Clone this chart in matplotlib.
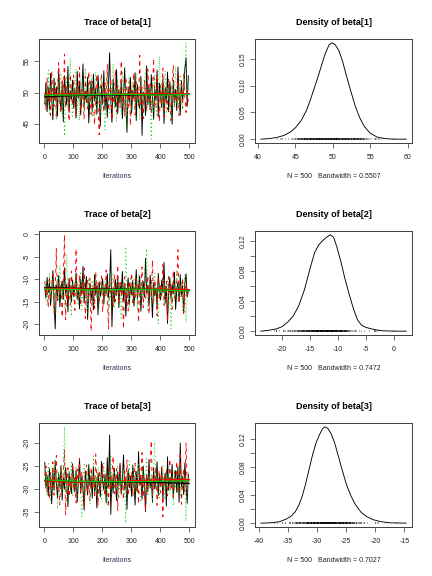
import numpy as np
import matplotlib
matplotlib.use("Agg")
import matplotlib.pyplot as plt

plt.rcParams["font.family"] = ["Liberation Sans", "DejaVu Sans"]
plt.rcParams["axes.unicode_minus"] = False

# trace values (every 4th iteration of 500), three chains per parameter
b1_chain1 = [48.2, 51.6, 46.9, 50.8, 47.4, 53.1, 49.0, 45.6, 52.3, 48.7, 50.9, 46.2, 53.8, 49.5, 47.1, 51.2, 45.3, 52.7, 49.9, 48.0, 54.2, 46.8, 50.3, 48.9, 52.0,
             47.5, 50.6, 45.9, 53.4, 49.1, 51.8, 46.4, 49.7, 54.6, 47.8, 50.2, 48.4, 52.5, 45.1, 49.3, 51.9, 47.0, 53.0, 48.6, 50.7, 46.5, 52.8, 49.4, 44.6, 51.1,
             48.1, 53.5, 47.3, 50.0, 46.0, 51.4, 56.4, 48.8, 45.2, 52.1, 49.6, 47.7, 53.7, 46.6, 50.5, 48.3, 51.7, 45.8, 49.2, 54.0, 47.9, 43.6, 50.9, 48.5, 52.4,
             46.7, 50.4, 49.0, 53.2, 45.5, 51.3, 48.2, 47.4, 52.6, 43.1, 50.1, 49.8, 46.3, 54.3, 48.0, 51.0, 47.2, 52.9, 49.4, 45.7, 50.6, 48.7, 53.6, 46.1, 51.5,
             49.1, 47.6, 52.2, 45.0, 50.8, 48.4, 53.3, 46.9, 51.7, 49.7, 44.9, 52.0, 48.3, 50.5, 47.1, 54.1, 49.6, 46.4, 51.9, 48.8, 50.3, 53.9, 55.6, 47.8, 52.7]
b1_chain2 = [49.8, 47.2, 52.4, 48.5, 50.9, 46.3, 53.5, 49.1, 47.8, 51.6, 45.9, 50.2, 54.8, 48.0, 46.7, 52.2, 49.4, 56.2, 47.5, 51.0, 48.6, 45.4, 53.0, 50.1, 47.9,
             52.8, 48.3, 46.1, 51.3, 49.7, 54.1, 47.0, 50.5, 48.8, 45.7, 52.6, 49.2, 47.4, 53.4, 50.7, 46.5, 51.8, 48.1, 44.8, 49.9, 52.9, 47.7, 43.2, 50.4, 53.1,
             48.9, 46.8, 51.5, 49.3, 54.5, 47.1, 50.0, 52.3, 45.6, 49.5, 48.2, 53.6, 46.9, 51.1, 49.8, 47.6, 55.1, 48.4, 50.6, 46.2, 52.5, 49.0, 47.3, 51.9, 44.7,
             50.3, 48.7, 53.2, 46.4, 51.7, 49.6, 47.9, 56.0, 48.1, 50.8, 45.8, 52.0, 49.2, 47.0, 53.8, 48.6, 51.4, 46.6, 50.1, 55.5, 48.3, 47.5, 52.7, 49.9, 45.3,
             51.2, 48.0, 53.9, 46.0, 50.6, 49.4, 47.2, 52.1, 48.9, 45.5, 51.6, 54.4, 47.7, 50.0, 48.5, 52.8, 46.3, 49.7, 51.3, 47.4, 53.0, 49.1, 46.8, 50.4, 48.2]
b1_chain3 = [47.9, 50.7, 48.4, 53.6, 46.6, 51.2, 49.3, 47.0, 52.5, 50.0, 45.8, 49.6, 51.9, 48.1, 53.2, 46.4, 50.8, 43.0, 49.0, 52.7, 47.6, 50.3, 55.6, 48.6, 46.2,
             51.4, 49.2, 53.8, 47.3, 50.6, 45.5, 52.2, 48.8, 50.1, 46.9, 54.0, 49.5, 47.7, 51.6, 48.3, 52.9, 46.0, 50.4, 48.9, 53.3, 47.1, 49.8, 51.0, 45.9, 52.4,
             49.4, 47.5, 44.0, 50.9, 53.0, 48.2, 46.7, 51.5, 49.1, 54.7, 47.4, 50.2, 45.3, 52.1, 48.7, 50.8, 46.5, 53.4, 49.6, 47.8, 51.3, 44.4, 50.5, 52.6, 48.0,
             46.3, 51.8, 49.7, 47.2, 53.1, 48.5, 50.0, 45.6, 52.3, 49.3, 47.9, 51.1, 53.7, 46.8, 49.9, 48.2, 50.7, 42.5, 51.4, 47.0, 52.8, 49.0, 46.1, 50.3, 55.8,
             48.4, 51.7, 47.1, 49.5, 53.5, 46.6, 50.9, 48.8, 52.0, 45.2, 49.2, 51.5, 47.6, 54.2, 48.1, 50.6, 46.9, 52.9, 49.7, 47.3, 51.2, 53.4, 58.0, 48.9, 51.8]

b2_chain1 = [-11.8, -14.2, -9.6, -13.0, -10.7, -15.8, -12.4, -8.1, -14.9, -21.0, -11.3, -13.7, -9.2, -16.1, -12.0, -10.4, -14.5, -7.5, -13.3, -11.1, -17.2, -9.8, -12.7, -15.0, -10.2,
             -13.9, -11.6, -8.6, -14.4, -12.2, -16.6, -10.0, -13.1, -7.2, -15.3, -11.9, -9.4, -18.9, -12.6, -10.9, -14.7, -12.1, -16.8, -9.0, -13.5, -11.4, -17.9, -10.6, -13.8, -12.3,
             -9.9, -15.5, -11.7, -13.2, -8.8, -14.1, -10.8, -3.5, -20.5, -12.5, -15.1, -10.1, -13.6, -9.5, -16.3, -11.2, -12.9, -8.3, -14.8, -11.0, -18.2, -12.8, -9.7, -15.6, -11.5,
             -13.4, -10.3, -16.0, -12.2, -7.9, -14.3, -11.8, -9.3, -17.1, -12.6, -10.5, -14.0, -5.4, -13.1, -11.3, -15.9, -9.1, -12.4, -18.5, -10.8, -13.7, -11.9, -16.4, -8.7, -12.0,
             -14.6, -10.2, -13.0, -6.3, -15.2, -11.6, -19.8, -12.7, -9.6, -14.4, -11.1, -13.3, -8.5, -16.7, -12.3, -10.6, -14.9, -9.0, -13.6, -11.4, -17.4, -10.9, -8.8, -13.9, -12.5]
b2_chain2 = [-10.5, -13.6, -12.0, -16.2, -9.4, -14.0, -11.7, -8.9, -17.5, -12.6, -3.2, -15.1, -10.8, -13.2, -11.0, -18.4, -9.7, -0.2, -19.0, -12.3, -14.6, -10.1, -15.7, -8.2, -13.4,
             -11.5, -16.9, -3.3, -12.8, -14.3, -9.1, -15.9, -11.2, -13.7, -7.6, -18.7, -12.1, -10.3, -14.8, -9.8, -21.5, -12.9, -11.4, -16.5, -8.4, -13.1, -10.6, -15.4, -12.2, -9.3,
             -17.3, -11.9, -14.1, -8.0, -12.7, -21.0, -10.0, -13.5, -11.6, -16.0, -9.0, -14.9, -12.4, -6.9, -15.5, -10.7, -13.8, -11.3, -21.0, -9.5, -14.4, -12.0, -17.0, -10.4, -13.0,
             -8.6, -15.2, -11.8, -14.5, -9.9, -12.5, -19.6, -10.9, -13.3, -7.3, -16.3, -11.1, -14.2, -12.8, -9.2, -17.7, -11.5, -13.9, -5.8, -15.0, -10.2, -12.6, -18.1, -9.6, -14.7,
             -11.0, -13.6, -6.8, -15.8, -12.1, -10.5, -19.2, -9.4, -13.2, -11.7, -16.6, -8.1, -14.1, -12.9, -10.3, -3.5, -15.3, -11.3, -13.8, -9.7, -17.6, -12.4, -10.8, -14.3, -12.7]
b2_chain3 = [-13.1, -10.4, -15.6, -11.9, -8.7, -14.2, -12.5, -10.0, -17.8, -11.4, -13.8, -9.3, -15.0, -6.9, -12.7, -14.6, -10.9, -16.4, -11.6, -4.5, -13.5, -12.2, -9.5, -18.2, -11.0,
             -14.7, -12.3, -9.0, -15.4, -11.1, -13.9, -8.3, -16.7, -12.0, -10.6, -14.1, -11.8, -17.3, -9.7, -13.4, -12.6, -10.2, -15.9, -11.5, -8.8, -14.4, -12.9, -16.2, -10.7, -13.0,
             -11.2, -15.2, -9.9, -13.6, -12.1, -17.0, -10.3, -14.8, -8.5, -12.8, -16.5, -11.7, -13.3, -9.2, -15.7, -11.0, -18.6, -12.4, -10.8, -14.0, -2.8, -13.2, -11.3, -16.1, -9.6,
             -12.9, -14.5, -10.1, -13.7, -11.5, -16.8, -8.9, -12.2, -15.3, -10.5, -13.9, -11.8, -9.4, -3.3, -17.2, -12.6, -10.9, -14.3, -11.1, -15.8, -8.6, -13.4, -12.0, -19.9, -10.7,
             -14.1, -11.6, -13.0, -9.8, -15.5, -12.3, -10.4, -16.3, -11.9, -21.0, -13.6, -10.0, -14.9, -12.7, -8.2, -15.1, -11.3, -13.8, -10.6, -16.9, -12.1, -9.1, -19.5, -13.3, -11.7]

b3_chain1 = [-24.2, -29.8, -27.0, -31.5, -25.6, -28.4, -33.2, -26.1, -30.3, -23.8, -28.9, -31.9, -26.7, -29.5, -24.9, -32.4, -27.6, -30.0, -25.3, -28.1, -33.8, -26.4, -29.2, -31.0, -24.5,
             -27.9, -30.7, -25.9, -32.8, -28.6, -23.4, -30.9, -27.3, -29.9, -34.6, -26.0, -28.8, -31.3, -24.7, -29.4, -27.1, -32.0, -25.1, -30.5, -28.3, -34.1, -26.6, -29.0, -31.7, -24.0,
             -28.5, -30.2, -26.8, -33.0, -23.2, -29.6, -18.3, -35.5, -27.4, -30.8, -25.5, -28.7, -32.5, -26.3, -29.3, -24.4, -31.1, -27.7, -22.6, -30.1, -28.2, -34.4, -25.8, -29.7, -27.2,
             -31.6, -24.8, -28.0, -33.5, -26.2, -30.4, -21.9, -29.1, -27.5, -32.2, -25.0, -28.6, -34.9, -26.9, -30.6, -23.6, -29.8, -27.8, -32.7, -25.4, -30.0, -28.4, -24.1, -31.4, -27.0,
             -29.3, -25.7, -32.1, -28.8, -26.5, -33.7, -23.0, -30.3, -27.6, -29.0, -24.6, -31.8, -28.1, -26.0, -30.7, -25.2, -32.9, -20.0, -29.5, -27.3, -31.2, -24.3, -28.9, -33.1, -26.8]
b3_chain2 = [-27.2, -25.0, -30.6, -28.3, -32.1, -26.4, -29.7, -24.1, -31.3, -27.8, -22.7, -30.1, -28.6, -33.4, -25.8, -29.0, -26.9, -21.5, -35.5, -28.0, -25.4, -31.7, -27.5, -29.9, -24.6,
             -30.4, -27.1, -33.0, -25.7, -28.9, -23.3, -31.1, -26.2, -29.4, -34.0, -27.7, -24.8, -30.7, -28.2, -32.6, -25.3, -29.6, -26.7, -31.9, -22.4, -28.5, -33.6, -26.0, -30.2, -27.4,
             -24.3, -29.2, -31.5, -26.5, -28.1, -33.9, -25.1, -30.0, -27.3, -22.9, -31.0, -28.7, -25.6, -34.7, -27.9, -24.9, -30.5, -28.4, -32.3, -26.1, -29.5, -23.7, -31.4, -27.0, -29.8,
             -26.3, -31.6, -28.0, -24.4, -30.9, -27.6, -33.2, -25.5, -29.1, -22.1, -31.8, -27.9, -34.8, -26.6, -30.2, -28.8, -23.9, -19.5, -31.2, -27.2, -29.6, -25.2, -33.5, -28.3, -26.0,
             -30.8, -24.7, -36.0, -27.5, -29.3, -25.9, -31.5, -28.6, -23.5, -30.3, -27.8, -32.4, -26.2, -29.0, -24.0, -31.0, -27.4, -22.0, -33.3, -28.5, -25.6, -30.6, -20.0, -29.2, -27.1]
b3_chain3 = [-29.1, -26.6, -31.2, -24.5, -28.8, -32.7, -27.0, -25.2, -30.4, -23.6, -28.2, -34.3, -26.3, -29.7, -25.7, -31.0, -27.6, -16.5, -30.9, -28.0, -33.1, -26.1, -29.5, -24.2, -31.6,
             -27.3, -29.9, -25.0, -32.2, -28.5, -26.8, -30.2, -36.0, -27.7, -24.7, -31.4, -28.7, -25.5, -29.2, -33.3, -26.4, -28.1, -22.8, -30.6, -27.1, -31.8, -25.3, -29.0, -26.9, -32.5,
             -28.3, -24.4, -30.7, -27.5, -33.7, -25.9, -29.4, -22.5, -31.3, -27.8, -26.2, -30.1, -28.9, -24.9, -32.0, -27.2, -29.6, -25.6, -31.1, -28.4, -37.4, -26.5, -29.3, -23.9, -30.5,
             -27.9, -25.1, -31.7, -28.6, -26.0, -30.8, -24.3, -29.1, -32.9, -27.4, -25.8, -30.3, -28.2, -23.4, -31.5, -26.7, -29.8, -27.0, -33.0, -25.4, -19.8, -30.0, -28.0, -26.3, -31.9,
             -27.6, -29.5, -24.8, -32.3, -28.3, -26.9, -30.4, -25.0, -31.0, -28.7, -27.1, -33.6, -25.7, -29.9, -27.8, -30.7, -24.5, -31.6, -28.5, -26.4, -30.1, -27.3, -37.0, -29.0, -25.9]

# smoothed (lowess) lines per chain
smooth_x = [1, 100, 200, 300, 400, 500]
b1_smooth = [[49.3, 49.5, 49.6, 49.6, 49.7, 49.7], [49.8, 49.8, 49.7, 49.8, 49.8, 49.8], [49.6, 49.6, 49.7, 49.7, 49.6, 49.7]]
b2_smooth = [[-11.8, -12.0, -12.2, -12.2, -12.3, -12.4], [-12.0, -12.1, -12.3, -12.3, -12.2, -12.3], [-12.2, -12.3, -12.4, -12.2, -12.4, -12.6]]
b3_smooth = [[-28.2, -28.4, -28.5, -28.5, -28.6, -28.8], [-28.3, -28.5, -28.4, -28.2, -28.0, -27.9], [-28.0, -28.3, -28.4, -28.4, -28.3, -28.2]]

# density curves
d1_x = [40.4, 41.5, 42.5, 43.5, 44.3, 45.0, 45.8, 46.5, 47.0, 47.5, 48.0, 48.5, 49.0, 49.5, 49.9, 50.3, 50.8, 51.3, 51.8, 52.4, 53.0, 53.6, 54.2, 55.0, 55.9, 57.0, 58.0, 59.8]
d1_y = [0.000, 0.001, 0.003, 0.007, 0.013, 0.021, 0.035, 0.054, 0.073, 0.094, 0.115, 0.138, 0.160, 0.176, 0.180, 0.177, 0.166, 0.146, 0.120, 0.090, 0.062, 0.040, 0.024, 0.011, 0.004, 0.001, 0.000, 0.000]
d2_x = [-23.8, -22.5, -21.0, -20.0, -19.0, -18.0, -17.0, -16.0, -15.0, -14.2, -13.5, -12.8, -12.0, -11.4, -10.8, -10.2, -9.5, -8.8, -8.0, -7.2, -6.5, -5.8, -5.0, -4.0, -3.0, -2.0, 0.0, 2.2]
d2_y = [0.000, 0.001, 0.003, 0.006, 0.012, 0.020, 0.034, 0.055, 0.083, 0.104, 0.114, 0.120, 0.125, 0.128, 0.125, 0.112, 0.093, 0.071, 0.049, 0.029, 0.015, 0.008, 0.005, 0.003, 0.0015, 0.0005, 0.000, 0.000]
d3_x = [-39.7, -38.0, -36.5, -35.3, -34.5, -33.8, -33.2, -32.6, -32.0, -31.4, -30.8, -30.2, -29.6, -29.1, -28.7, -28.2, -27.6, -27.0, -26.4, -25.7, -25.0, -24.2, -23.4, -22.4, -21.4, -20.4, -19.0, -17.5, -14.7]
d3_y = [0.000, 0.0005, 0.002, 0.006, 0.010, 0.016, 0.025, 0.038, 0.056, 0.077, 0.098, 0.115, 0.127, 0.135, 0.138, 0.136, 0.128, 0.115, 0.097, 0.076, 0.056, 0.039, 0.026, 0.015, 0.009, 0.005, 0.002, 0.0005, 0.000]

params = ["beta[1]", "beta[2]", "beta[3]"]
bandwidths = ["0.5507", "0.7472", "0.7027"]
n_iter = 500

chains = [[b1_chain1, b1_chain2, b1_chain3], [b2_chain1, b2_chain2, b2_chain3], [b3_chain1, b3_chain2, b3_chain3]]
smooths = [b1_smooth, b2_smooth, b3_smooth]
dens = [(d1_x, d1_y), (d2_x, d2_y), (d3_x, d3_y)]
trace_yticks = [[45, 50, 55], [-20, -15, -10, -5, 0], [-35, -30, -25, -20]]
dens_xticks = [[40, 45, 50, 55, 60], [-20, -15, -10, -5, 0], [-40, -35, -30, -25, -20, -15]]
dens_yticks = [[0, 0.05, 0.10, 0.15], np.arange(0, 0.121, 0.02), np.arange(0, 0.121, 0.02)]
dens_ylabels = [["0.00", "0.05", "0.10", "0.15"],
                ["0.00", "", "0.04", "", "0.08", "", "0.12"],
                ["0.00", "", "0.04", "", "0.08", "", "0.12"]]

colors = ["black", "#FF0000", "#00CD00"]
styles = ["-", (0, (4.5, 4.5)), (0, (1.1, 3.3))]
txt = "#222233"

fig = plt.figure(figsize=(6, 8), dpi=72)
W, H = 432, 576


def style_axes(ax):
    for s in ax.spines.values():
        s.set_linewidth(1.0)
        s.set_color("#444444")
    ax.tick_params(length=5, width=0.75, color="#444444", labelsize=7, labelcolor=txt)
    ax.tick_params(axis="x", pad=6)
    ax.tick_params(axis="y", pad=3)
    for lab in ax.get_yticklabels():
        lab.set_rotation(90)
        lab.set_va("center")


for i in range(3):
    top = 39 + 192 * i
    bottom = 1 - (top + 104) / H

    # trace plot
    ax = fig.add_axes([39 / W, bottom, 156 / W, 104 / H])
    for k in range(3):
        vals = np.array(chains[i][k])
        it = 1 + 4 * np.arange(len(vals))
        ax.plot(it, vals, color=colors[k], linestyle=styles[k], lw=0.9)
    for k in range(3):
        ax.plot(smooth_x, smooths[i][k], color=colors[k], lw=1.2)
    ax.margins(x=0.04, y=0.04)
    ax.set_xticks([0, 100, 200, 300, 400, 500])
    ax.set_yticks(trace_yticks[i])
    ax.set_title("Trace of " + params[i], fontsize=9, fontweight="bold", pad=14)
    style_axes(ax)
    ax.annotate("Iterations", xy=(0.5, 0), xycoords="axes fraction", xytext=(0, -34),
                textcoords="offset points", ha="center", va="center", fontsize=7, color="#2b3553")

    # density plot
    ax = fig.add_axes([255 / W, bottom, 157 / W, 104 / H])
    dx, dy = dens[i]
    ax.plot(dx, dy, color="black", lw=0.9)
    allvals = np.concatenate([np.array(c) for c in chains[i]])
    ax.vlines(allvals, 0, max(dy) / 60, color="black", lw=0.6)
    ax.margins(x=0.04, y=0.04)
    ax.set_xticks(dens_xticks[i])
    ax.set_yticks(dens_yticks[i])
    ax.set_yticklabels(dens_ylabels[i])
    ax.set_title("Density of " + params[i], fontsize=9, fontweight="bold", pad=14)
    style_axes(ax)
    ax.annotate("N = %d   Bandwidth = %s" % (n_iter, bandwidths[i]), xy=(0.5, 0),
                xycoords="axes fraction", xytext=(0, -34), textcoords="offset points",
                ha="center", va="center", fontsize=7, color=txt)

fig.savefig("out.png", dpi=72)
